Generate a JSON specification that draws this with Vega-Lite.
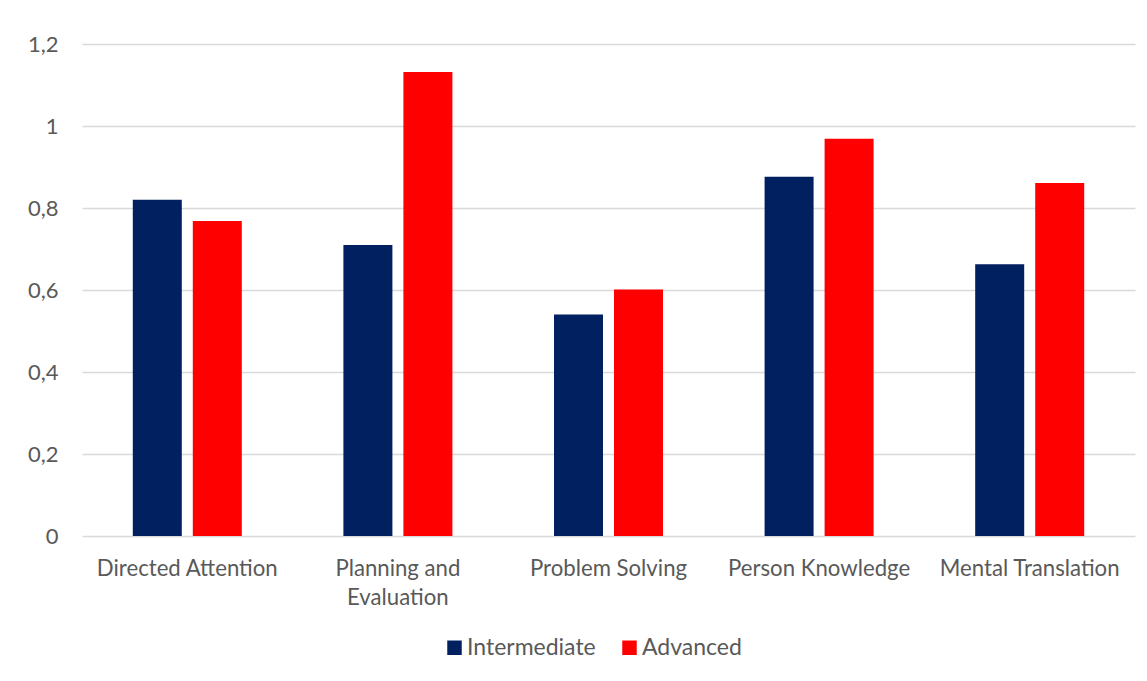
{
  "$schema": "https://vega.github.io/schema/vega-lite/v6.json",
  "width": 1053,
  "height": 492,
  "autosize": {"type": "none"},
  "padding": {"left": 82, "top": 44, "right": 12, "bottom": 145},
  "background": "white",
  "data": {
    "values": [
      {"category": "Directed Attention", "level": "Intermediate", "value": 0.82},
      {"category": "Directed Attention", "level": "Advanced", "value": 0.768},
      {"category": "Planning and Evaluation", "level": "Intermediate", "value": 0.71},
      {"category": "Planning and Evaluation", "level": "Advanced", "value": 1.132},
      {"category": "Problem Solving", "level": "Intermediate", "value": 0.54},
      {"category": "Problem Solving", "level": "Advanced", "value": 0.601},
      {"category": "Person Knowledge", "level": "Intermediate", "value": 0.876},
      {"category": "Person Knowledge", "level": "Advanced", "value": 0.969},
      {"category": "Mental Translation", "level": "Intermediate", "value": 0.663},
      {"category": "Mental Translation", "level": "Advanced", "value": 0.861}
    ]
  },
  "mark": {"type": "bar"},
  "encoding": {
    "x": {
      "field": "category",
      "type": "nominal",
      "sort": null,
      "scale": {"paddingInner": 0.4824, "paddingOuter": 0.2412},
      "axis": {
        "title": null,
        "labelAngle": 0,
        "domain": false,
        "ticks": false,
        "labelPadding": 21,
        "labelFontSize": 22.2,
        "labelFont": "Lato",
        "labelColor": "#595959",
        "labelLineHeight": 29,
        "labelLimit": 300,
        "labelExpr": "datum.value == 'Planning and Evaluation' ? ['Planning and', 'Evaluation'] : datum.value"
      }
    },
    "xOffset": {
      "field": "level",
      "type": "nominal",
      "sort": ["Intermediate", "Advanced"],
      "scale": {"paddingInner": 0.1833, "paddingOuter": 0}
    },
    "y": {
      "field": "value",
      "type": "quantitative",
      "scale": {"domain": [0, 1.2], "nice": false},
      "axis": {
        "title": null,
        "values": [0, 0.2, 0.4, 0.6, 0.8, 1, 1.2],
        "domain": false,
        "ticks": false,
        "labelPadding": 24,
        "labelFontSize": 22,
        "labelFont": "Lato",
        "labelColor": "#595959",
        "gridColor": "#d9d9d9",
        "gridWidth": 1.3,
        "labelExpr": "replace(toString(datum.value), '.', ',')"
      }
    },
    "color": {
      "field": "level",
      "type": "nominal",
      "sort": ["Intermediate", "Advanced"],
      "scale": {"domain": ["Intermediate", "Advanced"], "range": ["#002060", "#ff0000"]},
      "legend": {
        "title": null,
        "orient": "none",
        "legendX": 361,
        "legendY": 592,
        "direction": "horizontal",
        "symbolType": "square",
        "symbolSize": 210,
        "symbolStrokeWidth": 0,
        "labelFontSize": 23,
        "labelFont": "Lato",
        "labelColor": "#595959",
        "columnPadding": 22,
        "labelOffset": 1
      }
    }
  },
  "config": {
    "view": {"stroke": null}
  }
}
